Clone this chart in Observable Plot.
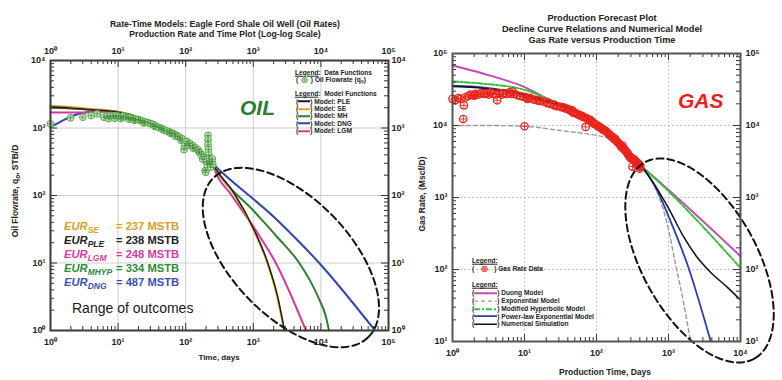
<!DOCTYPE html>
<html>
<head>
<meta charset="utf-8">
<script src="https://cdn.jsdelivr.net/npm/d3@7"></script>
<script src="https://cdn.jsdelivr.net/npm/@observablehq/plot@0.6"></script>
<style>
  html,body{margin:0;padding:0;background:#fff;}
  #wrap{position:relative;width:782px;height:380px;overflow:hidden;font-family:"Liberation Sans",Arial,Helvetica,sans-serif;color:#222;}
  .lab{position:absolute;white-space:nowrap;line-height:1;}
  .sub{font-size:0.75em;position:relative;top:0.3em;line-height:0;}
</style>
</head>
<body>
<div id="wrap"></div>
<script>
const FONT = "'Liberation Sans', Arial, Helvetica, sans-serif";

// ---------------- tick values ----------------
const oilXMajor = [1, 10, 100, 1000, 10000, 100000];
const oilYMajor = [1, 10, 100, 1000, 10000];
const gasXMajor = [1, 10, 100, 1000, 10000];
const gasYMajor = [10, 100, 1000, 10000, 100000];

// ---------------- OIL panel data: [time (days), rate (STB/D)] ----------------
const oilPoints = [[1,1150],[1.98,1413],[3.01,1445],[4.0,1531],[4.9,1622],[6.17,1445],[6.9,1496],[7.2,1380],[7.6,1514],[8.5,1479],[9,1400],[9.3,1531],[10.2,1496],[11,1380],[11.2,1462],[12.0,1514],[13.2,1445],[14.1,1413],[14.5,1350],[15.5,1429],[16.6,1380],[17.5,1300],[18.2,1349],[20,1334],[21.4,1288],[22.9,1274],[24,1190],[25.1,1230],[27.5,1202],[30.2,1161],[33.1,1122],[35,1050],[36.3,1072],[39.8,1023],[43.7,989],[45,960],[47.9,933],[52.5,902],[57.5,871],[60,830],[63.1,832],[69.2,794],[70,760],[75.9,750],[83.2,708],[85,660],[89.1,692],[94.4,479],[97.7,550],[104.7,631],[110,560],[114.8,589],[126,550],[130,500],[138,513],[151,479],[158,437],[160,440],[170,407],[178,347],[186,380],[195,234],[198,221],[204,316],[209,288],[214,776],[214,661],[214,562],[216,479],[219,398],[224,355],[229,302],[234,263],[240,316],[248,347],[251,288]];

const pleCurve = [[1,2042],[2,1972],[4,1862],[8.1,1778],[15.8,1549],[25.7,1288],[44.7,1047],[79.4,813],[126,575],[178,417],[251,295],[278,248],[525,107],[1035,30.5],[1641,10],[2301,3.12],[2897,1]];
const seCurve  = [[1,2138],[2,2042],[4,1905],[8.1,1778],[15.8,1549],[25.7,1288],[44.7,1047],[79.4,813],[126,575],[178,417],[251,295],[278,248],[520,106],[1028,30.3],[1622,10],[2280,3.12],[2864,1]];
const mhCurve  = [[1,1995],[2,1950],[4,1862],[8.1,1778],[15.8,1549],[25.7,1288],[44.7,1047],[79.4,813],[126,575],[178,417],[251,295],[275,251],[1000,60],[2239,24.5],[4786,10],[7079,5.25],[9550,2.82],[11750,1.66],[13183,1]];
const dngCurve = [[1,1023],[1.585,1318],[2.63,1622],[4.47,1758],[8.1,1778],[15.8,1549],[25.7,1288],[44.7,1047],[79.4,813],[126,575],[178,417],[251,295],[2291,42.7],[9441,10],[63096,1]];
const lgmCurve = [[1,1698],[2,1698],[3.72,1718],[8.1,1778],[15.8,1549],[25.7,1288],[44.7,1047],[79.4,813],[126,575],[178,417],[251,295],[269,240],[457,107],[1096,30.2],[2153,10],[6000,1]];

const eurLabels = ["SE", "PLE", "LGM", "MHYP", "DNG"];
const eurValues = [237, 238, 248, 334, 487];

// ---------------- GAS panel data: [time (days), rate (Mscf/D)] ----------------
const gasPoints = [[1,23440],[1.1,22390],[1.2,23990],[1.29,23440],[1.41,12300],[1.44,19050],[1.51,24550],[1.66,25700],[1.78,26920],[1.95,26300],[2,26000],[2.09,27540],[2.29,26920],[2.51,28180],[2.72,27540],[2.95,28180],[3.16,26920],[3.39,28840],[3.72,27540],[4,27000],[4.17,22390],[4.47,28180],[4.9,26920],[5.13,28180],[5.62,27540],[6.17,28840],[6.5,27500],[6.76,29510],[7.24,27540],[7.94,26300],[8.71,25700],[9.55,25120],[10,9770],[10.5,24550],[11,23440],[11.5,24000],[12,23990],[13.5,22910],[15.1,22390],[16,22000],[16.6,21880],[18.6,21380],[20.9,20420],[21,20800],[22.9,19950],[25.7,19500],[26,19000],[28.2,18620],[31.6,18200],[33,17900],[35.5,17780],[37,17200],[39.8,16980],[42,16500],[44.7,15850],[46,16200],[48,15000],[49,15310],[53.7,14450],[56,14200],[58.9,13800],[62,13600],[63.1,13490],[66.1,13030],[70.8,9550],[72,12700],[75.9,12300],[80,12000],[83.2,11750],[88,11200],[91.2,10720],[95,10400],[100,10230],[105,9700],[110,9550],[115,9300],[120,8910],[125,8700],[132,8510],[138,8200],[145,7760],[152,7500],[158,7080],[165,7000],[174,6530],[180,6600],[185,6300],[191,6030],[200,5800],[209,5500],[215,5300],[222,5000],[229,5250],[237,4800],[245,4680],[250,4500],[260,4300],[269,4170],[275,3950],[282,3800],[290,3700],[295,3630],[300,3500],[316,2690],[322,3450],[331,3390],[340,3250],[348,3100],[355,3160],[363,2820],[372,3020],[380,2950],[389,2880],[398,2510],[400,2650],[407,2750]];

const duongCurve = [[1,68080],[2.72,52240],[10,34040],[20,23990],[31.6,19500],[50.1,16220],[66.7,13800],[102,9770],[141,7940],[194,5750],[296,3630],[408,2780],[10000,153]];
const expCurve   = [[1,10000],[3.16,10000],[10,9770],[31.6,8510],[102,7240],[141,6760],[195,5620],[296,3630],[408,2780],[697,1186],[959,432],[1250,120],[1633,33.3],[2023,10]];
const mhypCurve  = [[1,40830],[2.72,37930],[10,31260],[22.9,22390],[31.6,19500],[50.1,16220],[66.7,13800],[102,9770],[141,7940],[194,5750],[296,3630],[408,2780],[10000,105]];
const plexpCurve = [[1,35650],[2.72,33650],[6.31,29850],[12.6,25120],[25.1,20420],[31.6,19500],[50.1,16220],[66.7,13800],[102,9770],[141,7940],[194,5750],[296,3630],[408,2780],[735,1125],[1012,533],[1816,120],[3864,10]];
const numCurve   = [[1,34830],[2.72,33040],[6.31,29510],[12.6,25120],[25.1,20420],[31.6,19500],[50.1,16220],[66.7,13800],[102,9770],[141,7940],[194,5750],[296,3630],[408,2780],[1012,697],[1633,281],[2500,148],[3828,91.8],[6531,56.9],[10000,37.6]];

// annotation ellipses (in decades: log10 centre, semi-axes, tilt)
const oilEllipse = {cx: 3.556, cy: 1.081, a: 1.644, b: 0.874, angle: 46};
const gasEllipse = {cx: 3.431, cy: 2.125, a: 1.561, b: 0.796, angle: 60.8};

// ---------------- helpers ----------------
const rows = pairs => pairs.map(([t, q]) => ({t, q}));
function minorTicks(major) { const out = []; for (let i = 0; i < major.length - 1; i++) for (let k = 2; k <= 9; k++) out.push(major[i] * k); return out; }
const SUP = {"0":"⁰","1":"¹","2":"²","3":"³","4":"⁴","5":"⁵","6":"⁶"};
const pow10 = d => "10" + String(Math.round(Math.log10(d))).split("").map(c => SUP[c]).join("");
function ellipsePts({cx, cy, a, b, angle}) {
  const th = angle * Math.PI / 180, pts = [];
  for (let i = 0; i <= 160; i++) {
    const p = 2 * Math.PI * i / 160, u = a * Math.cos(p), v = b * Math.sin(p);
    pts.push({t: 10 ** (cx + u * Math.cos(th) - v * Math.sin(th)), q: 10 ** (cy - (u * Math.sin(th) + v * Math.cos(th)))});
  }
  return pts;
}
function decor({xMajor, yMajor, fw, fh, gridColor, gridDash}) {
  const xMinor = minorTicks(xMajor), yMinor = minorTicks(yMajor);
  const tk = {stroke: "#333", strokeWidth: 1};
  return {
    grid: [
      Plot.ruleX(xMajor.slice(1, -1), {stroke: gridColor, strokeWidth: 1, strokeDasharray: gridDash}),
      Plot.ruleY(yMajor.slice(1, -1), {stroke: gridColor, strokeWidth: 1, strokeDasharray: gridDash})
    ],
    ticks: [
      Plot.ruleX(xMinor, {insetTop: fh - 4, ...tk}),
      Plot.ruleX(xMinor, {insetBottom: fh - 4, ...tk}),
      Plot.ruleX(xMajor, {insetTop: fh - 7, ...tk}),
      Plot.ruleX(xMajor, {insetBottom: fh - 7, ...tk}),
      Plot.ruleY(yMinor, {insetRight: fw - 4, ...tk}),
      Plot.ruleY(yMinor, {insetLeft: fw - 4, ...tk}),
      Plot.ruleY(yMajor, {insetRight: fw - 7, ...tk}),
      Plot.ruleY(yMajor, {insetLeft: fw - 7, ...tk})
    ]
  };
}
const axisStyle = {tickSize: 0, tickFormat: pow10, fontSize: 9, fontWeight: "bold", fill: "#222", label: null};
const line = (data, stroke, strokeWidth, dash) => Plot.line(rows(data), {x: "t", y: "q", stroke, strokeWidth, strokeDasharray: dash, curve: "monotone-x"});

// ---------------- OIL plot ----------------
const L = {w: 410, h: 380, ml: 50, mr: 22, mt: 60, mb: 50};
const dL = decor({xMajor: oilXMajor, yMajor: oilYMajor, fw: L.w - L.ml - L.mr, fh: L.h - L.mt - L.mb, gridColor: "#cdcdcd"});
const oilPlot = Plot.plot({
  width: L.w, height: L.h, marginLeft: L.ml, marginRight: L.mr, marginTop: L.mt, marginBottom: L.mb,
  x: {type: "log", domain: [1, 1e5]},
  y: {type: "log", domain: [1, 1e4]},
  style: {background: "transparent", fontFamily: FONT, overflow: "visible"},
  marks: [
    ...dL.grid,
    line(dngCurve, "#2e45b0", 2),
    line(mhCurve, "#2f7d32", 2),
    line(lgmCurve, "#d9359e", 2),
    line(seCurve, "#d9a021", 2.2),
    line(pleCurve, "#1b1b1b", 1.4),
    Plot.dot(rows(oilPoints), {x: "t", y: "q", r: 3.4, stroke: "#4ea845", fill: "#d3ebc9", fillOpacity: 0.85, strokeWidth: 1}),
    Plot.dot(rows(oilPoints), {x: "t", y: "q", r: 1.9, symbol: "plus", stroke: "#3d8c36", strokeWidth: 0.8}),
    Plot.line(ellipsePts(oilEllipse), {x: "t", y: "q", stroke: "#111", strokeWidth: 2, strokeDasharray: "7,4"}),
    ...dL.ticks,
    Plot.frame({stroke: "#3b3b3b", strokeWidth: 2}),
    Plot.axisX({...axisStyle, ticks: oilXMajor, anchor: "bottom", tickPadding: 8}),
    Plot.axisX({...axisStyle, ticks: oilXMajor, anchor: "top", tickPadding: 7}),
    Plot.axisY({...axisStyle, ticks: oilYMajor, anchor: "left", tickPadding: 5}),
    Plot.axisY({...axisStyle, ticks: oilYMajor, anchor: "right", tickPadding: 3})
  ]
});

// ---------------- GAS plot ----------------
const R = {w: 392, h: 380, ml: 62, mr: 42, mt: 53, mb: 39};
const dR = decor({xMajor: gasXMajor, yMajor: gasYMajor, fw: R.w - R.ml - R.mr, fh: R.h - R.mt - R.mb, gridColor: "#c4c4c4", gridDash: "2,2"});
const gasPlot = Plot.plot({
  width: R.w, height: R.h, marginLeft: R.ml, marginRight: R.mr, marginTop: R.mt, marginBottom: R.mb,
  x: {type: "log", domain: [1, 1e4]},
  y: {type: "log", domain: [10, 1e5]},
  style: {background: "transparent", fontFamily: FONT, overflow: "visible"},
  marks: [
    ...dR.grid,
    line(duongCurve, "#c44cb5", 2),
    line(expCurve, "#9a9a9a", 1.4, "4,3"),
    line(mhypCurve, "#33c23a", 2, "6,2,2,2"),
    line(plexpCurve, "#2b3fa8", 1.8),
    line(numCurve, "#111", 1.5),
    Plot.dot(rows(gasPoints), {x: "t", y: "q", r: 3.7, stroke: "#e8261e", fill: "none", strokeWidth: 1.3}),
    Plot.dot(rows(gasPoints), {x: "t", y: "q", r: 2, symbol: "plus", stroke: "#e8261e", strokeWidth: 0.9}),
    Plot.line(ellipsePts(gasEllipse), {x: "t", y: "q", stroke: "#111", strokeWidth: 2, strokeDasharray: "7,4"}),
    ...dR.ticks,
    Plot.frame({stroke: "#555", strokeWidth: 2}),
    Plot.axisX({...axisStyle, ticks: gasXMajor, anchor: "bottom", tickPadding: 8}),
    Plot.axisY({...axisStyle, ticks: gasYMajor, anchor: "left", tickPadding: 5}),
    Plot.axisY({...axisStyle, ticks: gasYMajor, anchor: "right", tickPadding: 5})
  ]
});

const wrap = document.getElementById("wrap");
[[oilPlot, 0], [gasPlot, 390]].forEach(([svg, x]) => {
  svg.style.position = "absolute"; svg.style.left = x + "px"; svg.style.top = "0px";
  svg.style.background = "transparent";
  wrap.appendChild(svg);
});

// ---------------- text overlays ----------------
function put(html, x, y, css = {}, anchor = "middle", rotate = 0) {
  const d = document.createElement("div");
  d.className = "lab";
  d.innerHTML = html;
  const tx = anchor === "middle" ? "-50%" : anchor === "end" ? "-100%" : "0";
  d.style.left = x + "px"; d.style.top = y + "px";
  d.style.transform = `translate(${tx},-50%)` + (rotate ? ` rotate(${rotate}deg)` : "");
  Object.assign(d.style, css);
  wrap.appendChild(d);
}
const B = (size) => ({fontWeight: "bold", fontSize: size + "px"});

// titles
put("Rate-Time Models: Eagle Ford Shale Oil Well (Oil Rates)", 225, 24, B(8.7));
put("Production Rate and Time Plot (Log-log Scale)", 225, 33.5, B(8.7));
put("Production Forecast Plot", 602, 18.5, B(9.2));
put("Decline Curve Relations and Numerical Model", 602, 29.5, B(9.2));
put("Gas Rate versus Production Time", 602, 40.7, B(9.2));

// axis titles
put("Time, days", 219, 358, B(8));
put("Production Time, Days", 605, 372, B(8.5));
put('Oil Flowrate, q<span class="sub">o</span>, STB/D', 15, 191, B(8.5), "middle", -90);
put("Gas Rate, (Mscf/D)", 422, 194, B(8.5), "middle", -90);

// big labels
put("OIL", 240, 107, {fontWeight: "bold", fontStyle: "italic", fontSize: "21px", color: "#2e7d32"}, "start");
put("GAS", 678, 100, {fontWeight: "bold", fontStyle: "italic", fontSize: "21px", color: "#ee1d23"}, "start");

// EUR block
const eurColors = ["#d6a024", "#222222", "#d63aa5", "#2e8b3a", "#3c4fb0"];
eurLabels.forEach((lab, i) => {
  put(`<span style="display:inline-block;width:52px;font-style:italic">EUR<span style="font-size:8.5px;position:relative;top:3px">${lab}</span></span>= ${eurValues[i]} MSTB`,
      64, 227 + i * 14.1, {fontWeight: "bold", fontSize: "11.2px", color: eurColors[i]}, "start");
});
put("Range of outcomes", 72, 308, {fontSize: "14px", color: "#1a1a1a"}, "start");

// legends
const sw = (w, color, width, dash) => `<svg width="${w}" height="5" style="vertical-align:middle"><line x1="0" y1="2.5" x2="${w}" y2="2.5" stroke="${color}" stroke-width="${width}"${dash ? ` stroke-dasharray="${dash}"` : ""}/></svg>`;
const dotSw = (stroke, fill) => `<svg width="9" height="7" style="vertical-align:middle"><circle cx="4.5" cy="3.5" r="2.8" stroke="${stroke}" fill="${fill}" stroke-width="0.9"/><path d="M4.5 2v3M3 3.5h3" stroke="${stroke}" stroke-width="0.7"/></svg>`;
const LG = {fontWeight: "bold", fontSize: "6.6px", color: "#222"};

put('<u>Legend</u>:&nbsp; Data Functions', 295, 72.7, LG, "start");
put(`(&nbsp;${dotSw("#4ea845", "#b9e0ad")}&nbsp;) Oil Flowrate (q<span class="sub">o</span>)`, 296, 79.5, LG, "start");
put('<u>Legend</u>:&nbsp; Model Functions', 295, 94.3, LG, "start");
[["#1b1b1b", "Model: PLE"], ["#d9a021", "Model: SE"], ["#2f7d32", "Model: MH"], ["#2e45b0", "Model: DNG"], ["#d9359e", "Model: LGM"]]
  .forEach(([c, t], i) => put(`(${sw(12, c, 2)}) ${t}`, 296, 101.7 + i * 7.3, LG, "start"));

put('<u>Legend:</u>', 472, 261, LG, "start");
put(`(&nbsp;&nbsp;&nbsp;${dotSw("#e8261e", "#f6a6a0")}&nbsp;&nbsp;&nbsp;) Gas Rate Data`, 472, 269, LG, "start");
put('<u>Legend:</u>', 472, 285, LG, "start");
[["#c44cb5", 2, null, "Duong Model"], ["#9a9a9a", 1.3, "4,3", "Exponential Model"], ["#33c23a", 2, "6,2,2,2", "Modified Hyperbolic Model"], ["#2b3fa8", 1.8, null, "Power-law Exponential Model"], ["#111", 1.5, null, "Numerical Simulation"]]
  .forEach(([c, w, d, t], i) => put(`(${sw(23, c, w, d)}) ${t}`, 472, 293.3 + i * 7.75, LG, "start"));
</script>
</body>
</html>
